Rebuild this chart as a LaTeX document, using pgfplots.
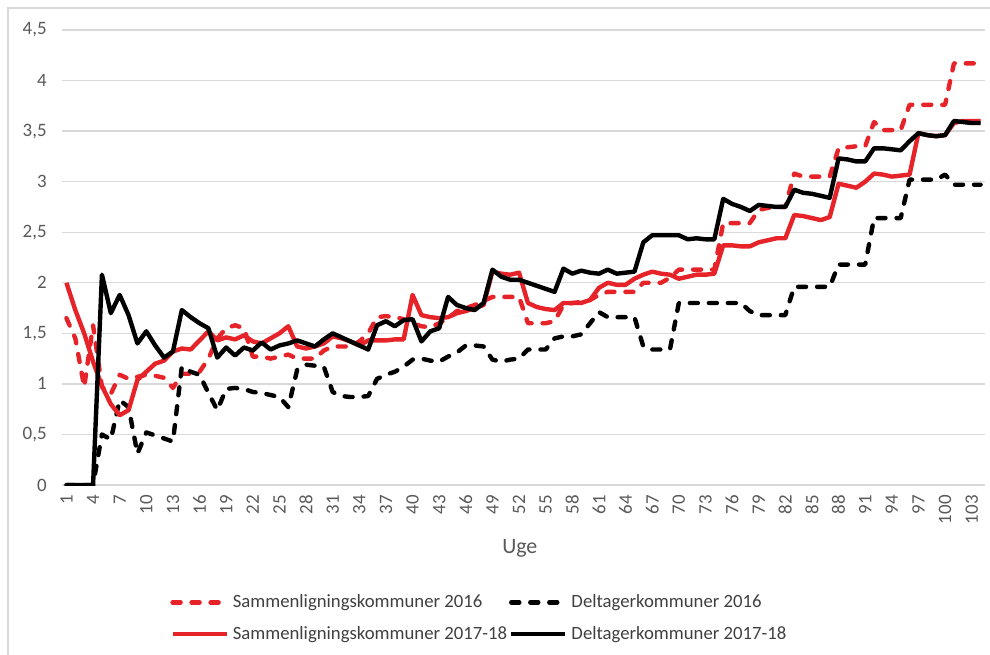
\documentclass[border=0pt]{standalone}
\usepackage{pgfplots}
\usepackage{pgfplotstable}
\pgfplotsset{compat=1.18}
\usepackage{fontspec}
\setmainfont{Carlito}
\definecolor{xred}{RGB}{230,35,40}
\definecolor{gridc}{RGB}{217,217,217}
\definecolor{txt}{RGB}{89,89,89}
\definecolor{legtxt}{RGB}{64,64,64}
\pgfplotstableread{
w a b c d
1 1.65 0 2.00 0
2 1.45 0 1.73 0
3 0.97 0 1.50 0
4 1.58 0 1.22 0
5 0.97 0.50 0.98 2.08
6 0.90 0.45 0.80 1.70
7 1.09 0.84 0.69 1.88
8 1.05 0.77 0.74 1.68
9 1.07 0.31 1.04 1.40
10 1.09 0.52 1.12 1.52
11 1.08 0.49 1.20 1.38
12 1.06 0.46 1.23 1.26
13 0.96 0.43 1.32 1.32
14 1.10 1.17 1.35 1.73
15 1.10 1.12 1.34 1.66
16 1.12 1.09 1.43 1.60
17 1.25 0.91 1.52 1.55
18 1.45 0.74 1.43 1.26
19 1.55 0.95 1.46 1.36
20 1.58 0.96 1.44 1.28
21 1.55 0.95 1.48 1.36
22 1.27 0.92 1.42 1.33
23 1.27 0.91 1.40 1.41
24 1.25 0.89 1.45 1.34
25 1.27 0.87 1.50 1.38
26 1.29 0.77 1.57 1.40
27 1.25 1.14 1.37 1.43
28 1.25 1.19 1.35 1.40
29 1.25 1.18 1.37 1.37
30 1.33 1.17 1.40 1.44
31 1.37 0.92 1.47 1.50
32 1.37 0.88 1.45 1.46
33 1.37 0.87 1.42 1.42
34 1.42 0.87 1.38 1.38
35 1.50 0.88 1.43 1.34
36 1.66 1.05 1.43 1.58
37 1.67 1.09 1.43 1.62
38 1.66 1.12 1.44 1.57
39 1.64 1.17 1.44 1.63
40 1.60 1.24 1.88 1.64
41 1.57 1.25 1.68 1.42
42 1.56 1.23 1.66 1.52
43 1.60 1.22 1.65 1.55
44 1.65 1.27 1.66 1.86
45 1.72 1.31 1.70 1.78
46 1.75 1.38 1.72 1.75
47 1.78 1.38 1.75 1.73
48 1.82 1.37 1.78 1.80
49 1.86 1.24 2.11 2.13
50 1.86 1.22 2.09 2.06
51 1.86 1.24 2.08 2.03
52 1.86 1.25 2.10 2.03
53 1.60 1.34 1.80 2.00
54 1.60 1.34 1.76 1.97
55 1.60 1.34 1.74 1.94
56 1.62 1.45 1.73 1.91
57 1.78 1.47 1.80 2.14
58 1.80 1.47 1.80 2.09
59 1.81 1.49 1.80 2.12
60 1.83 1.60 1.83 2.10
61 1.88 1.71 1.95 2.09
62 1.91 1.66 2.00 2.13
63 1.91 1.66 1.98 2.09
64 1.91 1.66 1.98 2.10
65 1.91 1.66 2.04 2.11
66 2.00 1.37 2.08 2.40
67 2.00 1.34 2.11 2.47
68 2.00 1.34 2.09 2.47
69 2.05 1.34 2.08 2.47
70 2.13 1.80 2.04 2.47
71 2.13 1.80 2.06 2.43
72 2.13 1.80 2.08 2.44
73 2.13 1.80 2.08 2.43
74 2.13 1.80 2.09 2.43
75 2.59 1.80 2.37 2.83
76 2.59 1.80 2.37 2.78
77 2.59 1.80 2.36 2.75
78 2.59 1.72 2.36 2.71
79 2.72 1.68 2.40 2.77
80 2.74 1.68 2.42 2.76
81 2.75 1.68 2.44 2.75
82 2.75 1.68 2.44 2.75
83 3.08 1.96 2.67 2.92
84 3.05 1.96 2.66 2.89
85 3.05 1.96 2.64 2.88
86 3.05 1.96 2.62 2.86
87 3.05 1.96 2.65 2.84
88 3.33 2.18 2.98 3.23
89 3.34 2.18 2.96 3.22
90 3.35 2.18 2.94 3.20
91 3.35 2.18 3.00 3.20
92 3.59 2.64 3.08 3.33
93 3.51 2.64 3.07 3.33
94 3.51 2.64 3.05 3.32
95 3.51 2.64 3.06 3.31
96 3.76 3.02 3.07 3.40
97 3.76 3.02 3.48 3.48
98 3.76 3.02 3.46 3.46
99 3.76 3.02 3.45 3.45
100 3.76 3.07 3.46 3.46
101 4.17 2.97 3.58 3.60
102 4.17 2.97 3.60 3.59
103 4.17 2.97 3.60 3.58
104 4.17 2.97 3.60 3.58
}\data
\begin{document}
\begin{tikzpicture}
\useasboundingbox (-31bp,-85bp) rectangle (464bp,242.5bp);
\draw[gridc, line width=0.8bp] (-27bp,-100bp) -- (-27bp,238.5bp) -- (480bp,238.5bp);
\begin{axis}[
  scale only axis, width=461.5bp, height=227.5bp,
  xmin=0.5, xmax=104.5, ymin=0, ymax=4.5,
  xtick={1,4,...,103}, ytick={0,0.5,...,4.5},
  ymajorgrids, grid style={color=gridc, line width=0.7bp},
  axis line style={draw=none},
  major tick length=0pt,
  /pgf/number format/use comma,
  /pgf/number format/1000 sep={},
  /pgf/number format/assume math mode=true,
  tick label style={font=\fontsize{9.5}{11}\selectfont, color=txt, inner sep=0pt},
  yticklabel style={anchor=east},
  xticklabel style={rotate=90, anchor=east},
  xticklabel shift=5bp, yticklabel shift=7.5bp,
  xlabel={Uge},
  every axis x label/.style={at={(axis description cs:0.496,-0.1385)}, anchor=center, font=\fontsize{11}{13}\selectfont, color=txt},
  legend columns=2,
  legend cell align=left,
  legend style={draw=none, fill=none, at={(axis description cs:0.117,-0.293)}, anchor=west, inner sep=0pt,
    font=\fontsize{9.4}{11}\selectfont, text=legtxt, row sep=4bp,
    /tikz/every even column/.append style={column sep=-1bp}},
  legend image code/.code={\draw[#1] (0bp,0bp) -- (27bp,0bp);},
  every axis plot/.append style={line width=2.2bp, line join=round},
]
\addplot[xred, line cap=round, dash pattern=on 4bp off 5.5bp] table[x=w,y=a]{\data};
\addlegendentry{Sammenligningskommuner 2016}
\addplot[black, line cap=round, dash pattern=on 4bp off 5.5bp] table[x=w,y=b]{\data};
\addlegendentry{Deltagerkommuner 2016}
\addplot[xred] table[x=w,y=c]{\data};
\addlegendentry{Sammenligningskommuner 2017-18}
\addplot[black] table[x=w,y=d]{\data};
\addlegendentry{Deltagerkommuner 2017-18}
\end{axis}
\end{tikzpicture}
\end{document}
